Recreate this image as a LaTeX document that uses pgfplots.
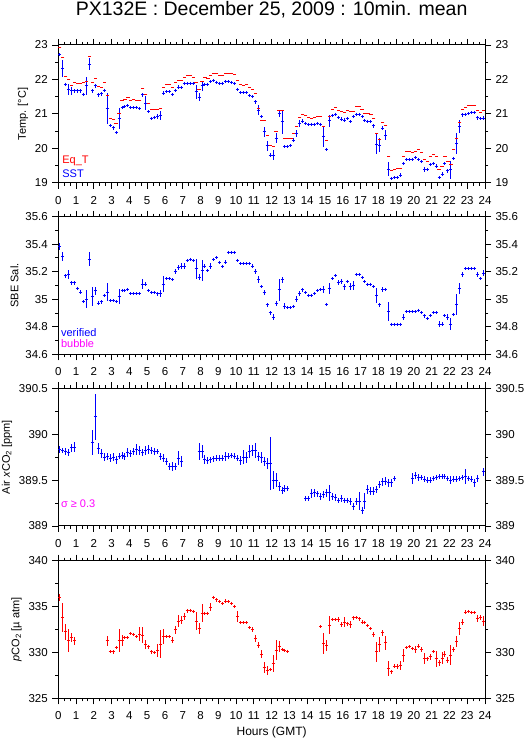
\documentclass[border=0pt]{standalone}
\usepackage{pgfplots}
\pgfplotsset{compat=1.18}
\usepackage{pgfplotstable}
\usepackage{fontspec}
\setmainfont{Liberation Sans}
\definecolor{mag}{RGB}{255,0,255}

\pgfplotstableread{
x y
0.083 22.92
0.250 22.64
0.417 22.08
0.583 22.00
0.750 21.83
0.917 21.90
1.083 21.89
1.250 21.89
1.417 21.90
1.583 21.94
1.750 22.66
1.917 21.92
2.083 22.03
2.250 21.79
2.417 21.77
2.583 21.92
2.750 21.52
2.917 20.87
3.083 20.85
3.250 20.72
3.417 21.00
3.583 21.38
3.750 21.42
3.917 21.48
4.083 21.40
4.250 21.42
4.417 21.40
4.583 21.40
4.750 21.74
4.917 21.55
5.083 21.30
5.250 21.13
5.417 21.13
5.583 21.14
5.750 21.16
5.917 21.77
6.083 21.85
6.250 21.85
6.417 21.77
6.583 21.92
6.750 21.98
6.917 21.98
7.083 22.06
7.250 22.10
7.417 22.10
7.583 22.06
7.750 21.90
7.917 21.71
8.083 21.95
8.250 22.06
8.417 22.04
8.583 22.12
8.750 22.18
8.917 22.18
9.083 22.12
9.250 22.12
9.417 22.16
9.583 22.18
9.750 22.16
9.917 22.14
10.083 21.96
10.250 21.85
10.417 21.83
10.583 21.85
10.750 21.77
10.917 21.71
11.083 21.58
11.250 21.15
11.417 20.80
11.583 20.80
11.750 20.36
11.917 20.07
12.083 20.05
12.250 20.48
12.417 21.11
12.583 21.11
12.750 20.29
12.917 20.29
13.083 20.29
13.250 20.43
13.417 20.63
13.583 20.90
13.750 20.99
13.917 20.96
14.083 20.90
14.250 20.87
14.417 20.90
14.583 20.92
14.750 20.92
14.917 20.63
15.083 20.24
15.250 20.93
15.417 21.13
15.583 21.19
15.750 21.11
15.917 21.06
16.083 21.03
16.250 21.09
16.417 21.08
16.583 21.07
16.750 21.21
16.917 21.21
17.083 21.13
17.250 21.01
17.417 21.01
17.583 20.99
17.750 20.87
17.917 20.43
18.083 20.26
18.250 20.74
18.417 20.67
18.583 19.76
18.750 19.35
18.917 19.39
19.083 19.42
19.250 19.42
19.417 19.76
19.583 19.90
19.750 19.90
19.917 19.89
20.083 19.92
20.250 19.97
20.417 19.88
20.583 19.68
20.750 19.61
20.917 19.77
21.083 19.81
21.250 19.76
21.417 19.39
21.583 19.46
21.750 19.77
21.917 19.62
22.083 19.54
22.250 19.95
22.417 20.29
22.583 20.75
22.750 21.13
22.917 21.19
23.083 21.23
23.250 21.25
23.417 21.25
23.583 21.09
23.750 21.03
23.917 21.11
}\eqt

\pgfplotstableread{
x y e
0.083 22.71 0.03
0.250 22.32 0.25
0.417 21.86 0.05
0.583 21.71 0.15
0.750 21.67 0.12
0.917 21.67 0.05
1.083 21.67 0.05
1.250 21.67 0.05
1.417 21.57 0.03
1.583 21.81 0.26
1.750 22.44 0.17
1.917 21.67 0.05
2.083 21.81 0.06
2.250 21.55 0.05
2.417 21.58 0.06
2.583 21.69 0.04
2.750 21.16 0.45
2.917 20.65 0.03
3.083 20.59 0.05
3.250 20.45 0.03
3.417 20.87 0.30
3.583 21.19 0.04
3.750 21.21 0.03
3.917 21.23 0.03
4.083 21.19 0.03
4.250 21.18 0.05
4.417 21.19 0.03
4.583 21.16 0.05
4.750 21.55 0.05
4.917 21.31 0.20
5.083 21.06 0.03
5.250 20.87 0.03
5.417 20.90 0.05
5.583 20.92 0.08
5.750 20.95 0.13
5.917 21.60 0.05
6.083 21.64 0.04
6.250 21.64 0.03
6.417 21.55 0.04
6.583 21.69 0.04
6.750 21.77 0.06
6.917 21.77 0.05
7.083 21.89 0.03
7.250 21.89 0.03
7.417 21.89 0.03
7.583 21.87 0.03
7.750 21.64 0.20
7.917 21.48 0.12
8.083 21.81 0.15
8.250 21.86 0.03
8.417 21.86 0.03
8.583 21.93 0.03
8.750 21.96 0.03
8.917 21.92 0.03
9.083 21.89 0.03
9.250 21.89 0.03
9.417 21.94 0.03
9.583 21.94 0.03
9.750 21.90 0.04
9.917 21.88 0.03
10.083 21.71 0.05
10.250 21.61 0.03
10.417 21.61 0.03
10.583 21.61 0.03
10.750 21.53 0.03
10.917 21.50 0.04
11.083 21.35 0.05
11.250 21.11 0.15
11.417 20.92 0.05
11.583 20.48 0.15
11.750 20.07 0.15
11.917 19.80 0.05
12.083 19.80 0.15
12.250 20.29 0.15
12.417 21.01 0.10
12.583 20.77 0.35
12.750 20.05 0.03
12.917 20.05 0.03
13.083 20.07 0.03
13.250 20.24 0.05
13.417 20.43 0.10
13.583 20.72 0.10
13.750 20.79 0.05
13.917 20.72 0.05
14.083 20.68 0.03
14.250 20.70 0.03
14.417 20.70 0.03
14.583 20.72 0.03
14.750 20.70 0.03
14.917 20.34 0.30
15.083 19.97 0.05
15.250 20.80 0.17
15.417 20.94 0.04
15.583 20.99 0.03
15.750 20.89 0.05
15.917 20.85 0.05
16.083 20.82 0.05
16.250 20.87 0.03
16.417 20.77 0.05
16.583 20.92 0.05
16.750 20.99 0.03
16.917 20.99 0.03
17.083 20.92 0.05
17.250 20.80 0.03
17.417 20.79 0.03
17.583 20.77 0.03
17.750 20.65 0.05
17.917 20.12 0.30
18.083 20.09 0.20
18.250 20.58 0.06
18.417 20.38 0.15
18.583 19.39 0.20
18.750 19.11 0.03
18.917 19.15 0.03
19.083 19.15 0.03
19.250 19.22 0.05
19.417 19.56 0.05
19.583 19.68 0.03
19.750 19.68 0.03
19.917 19.68 0.03
20.083 19.72 0.04
20.250 19.68 0.03
20.417 19.61 0.03
20.583 19.39 0.07
20.750 19.39 0.04
20.917 19.53 0.03
21.083 19.56 0.03
21.250 19.48 0.06
21.417 19.15 0.05
21.583 19.25 0.05
21.750 19.56 0.05
21.917 19.35 0.06
22.083 19.37 0.27
22.250 19.71 0.03
22.417 20.14 0.30
22.583 20.63 0.20
22.750 20.97 0.06
22.917 20.99 0.03
23.083 21.01 0.03
23.250 21.03 0.03
23.417 21.03 0.03
23.583 20.89 0.06
23.750 20.87 0.03
23.917 20.87 0.06
}\sst

\pgfplotstableread{
x y e
0.083 35.38 0.025
0.250 35.31 0.035
0.417 35.17 0.015
0.583 35.18 0.030
0.750 35.12 0.015
0.917 35.12 0.015
1.083 35.08 0.010
1.250 35.05 0.015
1.417 34.98 0.010
1.583 35.00 0.065
1.750 35.29 0.050
1.917 35.02 0.070
2.083 35.06 0.030
2.250 34.97 0.015
2.417 34.98 0.015
2.583 35.03 0.010
2.750 35.05 0.065
2.917 34.99 0.005
3.083 34.99 0.005
3.250 34.98 0.005
3.417 35.02 0.055
3.583 35.06 0.010
3.750 35.06 0.005
3.917 35.07 0.005
4.083 35.04 0.005
4.250 35.04 0.005
4.417 35.04 0.005
4.583 35.04 0.010
4.750 35.11 0.035
4.917 35.11 0.015
5.083 35.06 0.005
5.250 35.05 0.005
5.417 35.05 0.005
5.583 35.04 0.015
5.750 35.04 0.025
5.917 35.11 0.055
6.083 35.15 0.005
6.250 35.15 0.005
6.417 35.14 0.005
6.583 35.20 0.020
6.750 35.23 0.020
6.917 35.24 0.020
7.083 35.24 0.020
7.250 35.28 0.010
7.417 35.29 0.010
7.583 35.28 0.005
7.750 35.22 0.070
7.917 35.16 0.020
8.083 35.21 0.075
8.250 35.24 0.015
8.417 35.21 0.010
8.583 35.24 0.020
8.750 35.29 0.005
8.917 35.30 0.005
9.083 35.27 0.005
9.250 35.24 0.010
9.417 35.27 0.015
9.583 35.34 0.005
9.750 35.34 0.005
9.917 35.34 0.005
10.083 35.28 0.010
10.250 35.26 0.005
10.417 35.26 0.005
10.583 35.26 0.005
10.750 35.26 0.005
10.917 35.24 0.015
11.083 35.20 0.020
11.250 35.14 0.025
11.417 35.09 0.005
11.583 35.05 0.020
11.750 34.96 0.015
11.917 34.90 0.015
12.083 34.87 0.020
12.250 34.97 0.020
12.417 35.07 0.080
12.583 35.14 0.020
12.750 34.95 0.020
12.917 34.94 0.005
13.083 34.94 0.005
13.250 34.95 0.010
13.417 35.00 0.020
13.583 35.04 0.020
13.750 35.07 0.015
13.917 35.05 0.010
14.083 35.03 0.005
14.250 35.03 0.005
14.417 35.04 0.005
14.583 35.06 0.005
14.750 35.07 0.010
14.917 35.07 0.025
15.083 34.96 0.005
15.250 35.08 0.040
15.417 35.15 0.010
15.583 35.17 0.005
15.750 35.12 0.020
15.917 35.13 0.020
16.083 35.09 0.020
16.250 35.13 0.010
16.417 35.09 0.025
16.583 35.10 0.035
16.750 35.18 0.005
16.917 35.18 0.005
17.083 35.16 0.005
17.250 35.13 0.005
17.417 35.11 0.005
17.583 35.11 0.005
17.750 35.09 0.005
17.917 35.03 0.055
18.083 34.96 0.015
18.250 35.07 0.020
18.417 35.07 0.010
18.583 34.91 0.070
18.750 34.82 0.010
18.917 34.82 0.005
19.083 34.82 0.010
19.250 34.82 0.005
19.417 34.87 0.020
19.583 34.91 0.005
19.750 34.91 0.005
19.917 34.91 0.005
20.083 34.91 0.010
20.250 34.92 0.005
20.417 34.90 0.005
20.583 34.88 0.015
20.750 34.86 0.005
20.917 34.88 0.005
21.083 34.90 0.005
21.250 34.90 0.005
21.417 34.82 0.020
21.583 34.82 0.015
21.750 34.88 0.010
21.917 34.87 0.020
22.083 34.82 0.045
22.250 34.89 0.005
22.417 34.96 0.075
22.583 35.08 0.040
22.750 35.18 0.020
22.917 35.22 0.005
23.083 35.22 0.005
23.250 35.22 0.005
23.417 35.22 0.005
23.583 35.18 0.020
23.750 35.15 0.010
23.917 35.19 0.020
}\sal

\pgfplotstableread{
x y e
0.083 389.83 0.04
0.250 389.82 0.03
0.417 389.81 0.04
0.583 389.80 0.04
0.750 389.85 0.04
0.917 389.86 0.05
1.917 389.91 0.14
2.083 390.19 0.25
2.250 389.84 0.06
2.417 389.79 0.05
2.583 389.75 0.04
2.750 389.76 0.04
2.917 389.74 0.04
3.083 389.75 0.04
3.250 389.72 0.04
3.417 389.76 0.03
3.583 389.77 0.04
3.750 389.76 0.04
3.917 389.80 0.05
4.083 389.79 0.04
4.250 389.81 0.04
4.417 389.83 0.06
4.583 389.82 0.05
4.750 389.80 0.04
4.917 389.82 0.05
5.083 389.83 0.05
5.250 389.82 0.04
5.417 389.81 0.04
5.583 389.81 0.03
5.750 389.76 0.04
5.917 389.74 0.04
6.083 389.70 0.04
6.250 389.65 0.04
6.417 389.65 0.05
6.583 389.65 0.04
6.750 389.74 0.08
6.917 389.70 0.06
7.917 389.81 0.09
8.083 389.81 0.07
8.250 389.72 0.05
8.417 389.71 0.04
8.583 389.72 0.03
8.750 389.73 0.03
8.917 389.74 0.03
9.083 389.74 0.03
9.250 389.74 0.03
9.417 389.76 0.05
9.583 389.76 0.03
9.750 389.77 0.03
9.917 389.76 0.03
10.083 389.74 0.03
10.250 389.71 0.05
10.417 389.75 0.08
10.583 389.75 0.06
10.750 389.81 0.07
10.917 389.82 0.06
11.083 389.82 0.08
11.250 389.76 0.05
11.417 389.75 0.06
11.583 389.70 0.05
11.750 389.68 0.06
11.917 389.68 0.29
12.083 389.50 0.10
12.250 389.50 0.08
12.417 389.43 0.05
12.583 389.39 0.04
12.750 389.41 0.04
12.917 389.41 0.03
13.917 389.30 0.03
14.083 389.30 0.03
14.250 389.35 0.05
14.417 389.36 0.04
14.583 389.35 0.03
14.750 389.32 0.04
14.917 389.34 0.04
15.083 389.36 0.04
15.250 389.36 0.09
15.417 389.32 0.04
15.583 389.31 0.04
15.750 389.28 0.03
15.917 389.30 0.04
16.083 389.28 0.03
16.250 389.28 0.03
16.417 389.27 0.04
16.583 389.21 0.04
16.750 389.27 0.04
16.917 389.27 0.10
17.083 389.17 0.04
17.250 389.27 0.09
17.417 389.40 0.05
17.583 389.38 0.04
17.750 389.38 0.04
17.917 389.40 0.04
18.083 389.45 0.04
18.250 389.48 0.04
18.417 389.49 0.04
18.583 389.47 0.04
18.750 389.47 0.04
18.917 389.52 0.03
19.917 389.52 0.06
20.083 389.55 0.04
20.250 389.53 0.04
20.417 389.53 0.03
20.583 389.51 0.03
20.750 389.50 0.03
20.917 389.50 0.03
21.083 389.52 0.03
21.250 389.53 0.03
21.417 389.54 0.03
21.583 389.54 0.03
21.750 389.54 0.03
21.917 389.52 0.03
22.083 389.50 0.04
22.250 389.51 0.03
22.417 389.51 0.03
22.583 389.52 0.03
22.750 389.53 0.03
22.917 389.54 0.08
23.083 389.52 0.03
23.250 389.51 0.03
23.417 389.47 0.04
23.583 389.52 0.04
23.917 389.59 0.04
}\xco

\pgfplotstableread{
x y e
0.083 335.95 0.36
0.250 333.78 1.55
0.417 332.23 0.90
0.583 331.33 1.25
0.750 331.60 0.50
0.917 331.25 0.45
2.750 331.25 0.50
2.917 330.06 0.15
3.083 330.06 0.20
3.250 330.53 0.15
3.417 331.33 1.25
3.583 331.25 0.60
3.750 331.60 0.15
3.917 331.60 0.15
4.083 332.05 0.15
4.250 331.98 0.15
4.417 331.69 0.15
4.583 331.98 0.75
4.750 331.87 0.85
4.917 330.89 0.50
5.083 330.60 0.20
5.250 330.06 0.20
5.417 329.99 0.20
5.583 330.24 0.70
5.750 330.89 1.50
5.917 331.76 0.80
6.083 331.69 0.15
6.250 331.69 0.15
6.417 331.33 0.30
6.583 332.48 0.45
6.750 333.42 0.60
6.917 333.49 0.45
7.083 333.93 0.40
7.250 334.51 0.20
7.417 334.58 0.15
7.583 334.47 0.15
7.750 333.42 1.00
7.917 332.59 0.60
8.083 334.29 1.00
8.250 334.29 0.15
8.417 334.29 0.15
8.583 334.94 0.40
8.750 336.02 0.15
8.917 335.74 0.20
9.083 335.59 0.15
9.250 335.30 0.15
9.417 335.59 0.20
9.583 335.52 0.15
9.750 335.37 0.15
9.917 335.01 0.20
10.083 333.93 0.60
10.250 333.21 0.15
10.417 333.21 0.15
10.583 333.21 0.15
10.750 332.70 0.15
10.917 332.48 0.30
11.083 331.51 0.40
11.250 330.78 0.30
11.417 329.81 0.45
11.583 328.36 0.55
11.750 328.00 0.50
11.917 328.15 0.20
12.083 328.80 0.90
12.250 330.24 1.10
12.417 330.68 0.60
12.583 330.31 0.15
12.750 330.24 0.15
12.917 330.13 0.15
14.750 332.84 0.15
14.917 330.96 1.10
15.083 330.78 0.60
15.250 332.95 1.00
15.417 333.60 0.20
15.583 333.60 0.20
15.750 333.60 0.30
15.917 333.06 0.30
16.083 333.31 0.50
16.250 333.13 0.20
16.417 333.06 0.40
16.583 333.75 0.20
16.750 333.78 0.15
16.917 333.64 0.20
17.083 333.31 0.20
17.250 333.31 0.15
17.417 332.95 0.15
17.583 332.59 0.20
17.750 331.94 0.30
17.917 330.06 1.10
18.083 330.89 0.80
18.250 332.12 0.30
18.417 331.04 0.80
18.583 328.22 0.80
18.750 327.89 0.20
18.917 328.51 0.20
19.083 328.44 0.30
19.250 328.58 0.50
19.417 329.70 0.70
19.583 330.53 0.15
19.750 330.60 0.15
19.917 330.42 0.20
20.083 330.31 0.40
20.250 330.68 0.20
20.417 330.31 0.30
20.583 329.30 0.60
20.750 329.30 0.20
20.917 329.52 0.30
21.083 330.06 0.15
21.250 329.30 0.90
21.417 328.87 0.30
21.583 329.34 0.65
21.750 329.81 0.30
21.917 329.16 0.30
22.083 329.70 1.10
22.250 330.31 0.30
22.417 331.22 0.60
22.583 332.59 0.70
22.750 333.31 0.30
22.917 334.40 0.20
23.083 334.47 0.15
23.250 334.36 0.15
23.417 334.36 0.15
23.583 333.68 0.35
23.750 333.78 0.30
23.917 333.42 0.50
}\pco

\pgfplotsset{
  panel/.style={
    scale only axis, width=426.7pt, height=137.7pt, anchor=south west,
    xmin=0, xmax=24, xtick={0,...,24}, minor x tick num=2,
    minor y tick num=1,
    tick align=outside, major tick length=6pt, minor tick length=3pt,
    axis line style={line width=1pt},
    every tick/.style={black, line width=0.9pt},
    tick label style={font=\fontsize{11.5}{13}\selectfont},
    label style={font=\fontsize{11}{13}\selectfont},
    /pgf/number format/assume math mode=true,
    scaled y ticks=false,
    yticklabel style={/pgf/number format/fixed, /pgf/number format/precision=1, xshift=-1pt},
    xticklabel style={yshift=-4pt},
  },
  rpanel/.style={panel, axis x line=none, axis y line*=right,
    yticklabel style={/pgf/number format/fixed, /pgf/number format/precision=1, xshift=2pt}},
  errs/.style={only marks, mark=+, mark size=1.5pt, line width=1pt,
    mark options={line width=1pt, solid},
    error bars/.cd, y dir=both, y explicit, error mark=none,
    error bar style={line width=1pt}},
}

\begin{document}
\begin{tikzpicture}
\useasboundingbox (0,0) rectangle (529pt,739pt);
% Panel 1: Temperature
\begin{axis}[panel, at={(58.3pt,556.3pt)},
  ymin=19, ymax=23, ytick={19,20,21,22,23},
  ylabel={Temp. [°C]},
  title={PX132E : December 25, 2009 : 10min. mean},
  title style={at={(0.5,1)}, anchor=base, yshift=23pt, font=\fontsize{19.5}{22}\selectfont}]
\addplot[red, only marks, mark=-, mark size=1.6pt, mark options={line width=1pt}] table[x=x,y=y] {\eqt};
\addplot[blue, errs, error bar style={blue}] table[x=x,y=y,y error=e] {\sst};
\node[anchor=base west, inner sep=0pt, text=red, font=\fontsize{11}{13}\selectfont] at (rel axis cs:0.009,0.142) {Eq\_T};
\node[anchor=base west, inner sep=0pt, text=blue, font=\fontsize{11}{13}\selectfont] at (rel axis cs:0.009,0.041) {SST};
\end{axis}
\begin{axis}[rpanel, at={(58.3pt,556.3pt)}, ymin=19, ymax=23, ytick={19,20,21,22,23}]
\end{axis}
% Panel 2: Salinity
\begin{axis}[panel, at={(58.3pt,384.7pt)},
  ymin=34.6, ymax=35.6, ytick={34.6,34.8,35,35.2,35.4,35.6},
  ylabel={SBE Sal.}]
\addplot[blue, errs, error bar style={blue}] table[x=x,y=y,y error=e] {\sal};
\node[anchor=base west, inner sep=0pt, text=blue, font=\fontsize{11}{13}\selectfont] at (rel axis cs:0.006,0.131) {verified};
\node[anchor=base west, inner sep=0pt, text=mag, font=\fontsize{11}{13}\selectfont] at (rel axis cs:0.006,0.046) {bubble};
\end{axis}
\begin{axis}[rpanel, at={(58.3pt,384.7pt)}, ymin=34.6, ymax=35.6, ytick={34.6,34.8,35,35.2,35.4,35.6}]
\end{axis}
% Panel 3: Air xCO2
\begin{axis}[panel, at={(58.3pt,213pt)},
  ymin=389, ymax=390.5, ytick={389,389.5,390,390.5},
  ylabel={Air \textit{x}CO\textsubscript{2} [ppm]}]
\addplot[blue, errs, error bar style={blue}] table[x=x,y=y,y error=e] {\xco};
\node[anchor=base west, inner sep=0pt, text=mag, font=\fontsize{11}{13}\selectfont] at (rel axis cs:0.006,0.133) {σ ≥ 0.3};
\end{axis}
\begin{axis}[rpanel, at={(58.3pt,213pt)}, ymin=389, ymax=390.5, ytick={389,389.5,390,390.5}]
\end{axis}
% Panel 4: pCO2
\begin{axis}[panel, at={(58.3pt,40.7pt)},
  ymin=325, ymax=340, ytick={325,330,335,340},
  ylabel={\textit{p}CO\textsubscript{2} [µ atm]},
  xlabel={Hours (GMT)},
  xlabel style={at={(0.5,0)}, anchor=base, yshift=-36.7pt, font=\fontsize{12}{14}\selectfont}]
\addplot[red, errs, error bar style={red}] table[x=x,y=y,y error=e] {\pco};
\end{axis}
\begin{axis}[rpanel, at={(58.3pt,40.7pt)}, ymin=325, ymax=340, ytick={325,330,335,340}]
\end{axis}
\end{tikzpicture}
\end{document}
